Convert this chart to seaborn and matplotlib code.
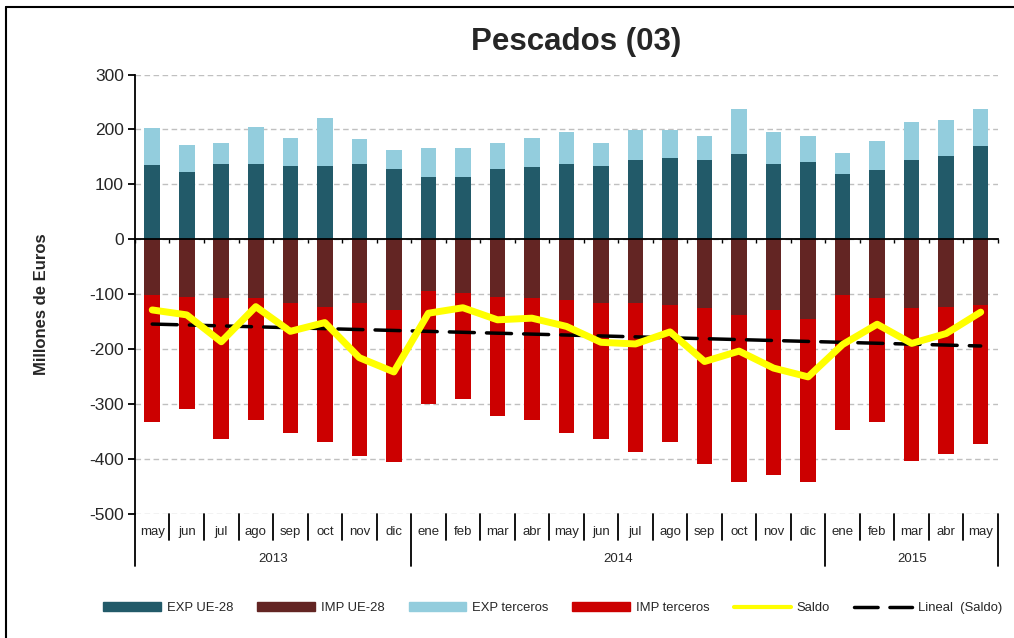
"""Pescados (03): comercio exterior mensual, may 2013 - may 2015."""

import matplotlib.pyplot as plt
import numpy as np
import pandas as pd
import seaborn as sns
from matplotlib.lines import Line2D
from matplotlib.patches import Patch

months = ["may", "jun", "jul", "ago", "sep", "oct", "nov", "dic",
          "ene", "feb", "mar", "abr", "may", "jun", "jul", "ago", "sep", "oct", "nov", "dic",
          "ene", "feb", "mar", "abr", "may"]
years = ["2013", "2014", "2015"]
months_per_year = [8, 12, 5]

exp_ue = [135, 122, 137, 137, 134, 134, 137, 128, 113, 113, 128, 132, 137,
          134, 145, 147, 145, 156, 137, 141, 119, 126, 145, 151, 170]
exp_terceros = [68, 50, 39, 67, 51, 86, 45, 35, 53, 53, 48, 53, 58,
                42, 53, 51, 43, 82, 58, 47, 38, 53, 68, 66, 68]
imp_ue = [-102, -105, -108, -108, -117, -124, -117, -130, -95, -99, -105, -108, -111,
          -117, -117, -120, -126, -139, -130, -145, -102, -108, -126, -123, -120]
imp_terceros = [-231, -205, -256, -222, -237, -246, -278, -277, -206, -193, -218, -222, -243,
                -247, -271, -250, -284, -303, -299, -297, -246, -225, -278, -269, -253]
saldo = [-129, -138, -187, -123, -168, -152, -216, -242, -135, -125, -147, -144, -159,
         -188, -191, -169, -223, -204, -235, -251, -192, -155, -190, -172, -133]

C_EXP_UE = "#225a69"
C_IMP_UE = "#632523"
C_EXP_T = "#93cddd"
C_IMP_T = "#cc0000"
C_SALDO = "#ffff00"

df = pd.DataFrame({
    "idx": np.arange(len(months)),
    "exp_ue": exp_ue,
    "exp_total": np.add(exp_ue, exp_terceros),
    "imp_ue": imp_ue,
    "imp_total": np.add(imp_ue, imp_terceros),
    "saldo": saldo,
})

sns.set_theme(style="white")
plt.rcParams["font.family"] = ["Liberation Sans", "DejaVu Sans"]
plt.rcParams["axes.unicode_minus"] = False

fig = plt.figure(figsize=(10.14, 6.38), dpi=100)
ax = fig.add_axes([0.1331, 0.1951, 0.8511, 0.6881])

# stacked bars: outer totals first, inner EU share on top
bar_kw = dict(width=0.45, linewidth=0, errorbar=None, ax=ax, zorder=2)
sns.barplot(data=df, x="idx", y="exp_total", color=C_EXP_T, saturation=1, **bar_kw)
sns.barplot(data=df, x="idx", y="exp_ue", color=C_EXP_UE, saturation=1, **bar_kw)
sns.barplot(data=df, x="idx", y="imp_total", color=C_IMP_T, saturation=1, **bar_kw)
sns.barplot(data=df, x="idx", y="imp_ue", color=C_IMP_UE, saturation=1, **bar_kw)

sns.lineplot(data=df, x="idx", y="saldo", color=C_SALDO, lw=5, ax=ax, zorder=4,
             solid_joinstyle="round", solid_capstyle="round")
coef = np.polyfit(df["idx"], df["saldo"], 1)
trend = np.polyval(coef, df["idx"])
ax.plot(df["idx"], trend, color="black", lw=2.5, dashes=(7.2, 3.5),
        dash_capstyle="round", zorder=3)

ax.set_xlim(-0.5, len(months) - 0.5)
ax.set_ylim(-500, 300)
ax.set_yticks(np.arange(-500, 301, 100))
ax.yaxis.grid(True, color="#c0c0c0", linestyle=(0, (4, 2.5)), linewidth=1)
ax.set_axisbelow(True)
ax.set_xlabel("")
ax.set_ylabel("")

for side in ("top", "right"):
    ax.spines[side].set_visible(False)
ax.spines["left"].set_color("black")
ax.spines["left"].set_linewidth(1.3)
ax.spines["bottom"].set_position(("data", 0))
ax.spines["bottom"].set_color("black")
ax.spines["bottom"].set_linewidth(1.3)
ax.spines["bottom"].set_zorder(5)

ax.set_xticks(np.arange(-0.5, len(months), 1.0))
ax.set_xticklabels([])
ax.tick_params(axis="x", direction="out", length=3, width=1, color="black", bottom=True)
ax.tick_params(axis="y", direction="out", length=5, width=1.3, color="black", left=True,
               labelsize=12.5, pad=3)

# two-level category labels under the plot
xt = ax.get_xaxis_transform()
bounds = np.arange(-0.5, len(months), 1.0)
year_edges = np.concatenate([[0], np.cumsum(months_per_year)]) - 0.5
for b in bounds:
    low = -0.1196 if b in year_edges else -0.0604
    ax.plot([b, b], [0, low], transform=xt, color="black", lw=1.3, clip_on=False)
for i, m in enumerate(months):
    ax.text(i, -0.042, m, transform=xt, ha="center", va="center", fontsize=9.5)
for y, a, b in zip(years, year_edges[:-1], year_edges[1:]):
    ax.text((a + b) / 2, -0.1036, y, transform=xt, ha="center", va="center", fontsize=9.5)

fig.text(0.568, 0.934, "Pescados (03)", ha="center", va="center",
         fontsize=22.5, fontweight="bold")
fig.text(0.0414, 0.5235, "Millones de Euros", ha="center", va="center",
         rotation=90, fontsize=12, fontweight="bold")

handles = [
    Patch(color=C_EXP_UE, label="EXP UE-28"),
    Patch(color=C_IMP_UE, label="IMP UE-28"),
    Patch(color=C_EXP_T, label="EXP terceros"),
    Patch(color=C_IMP_T, label="IMP terceros"),
    Line2D([], [], color=C_SALDO, lw=3, label="Saldo"),
    Line2D([], [], color="black", lw=2.5, dashes=(6.8, 3.4), dash_capstyle="round",
           label="Lineal  (Saldo)"),
]
fig.legend(handles=handles, ncol=6, loc="center", bbox_to_anchor=(0.545, 0.047),
           frameon=False, fontsize=9.4, handlelength=4.4, handleheight=0.7,
           columnspacing=1.85, handletextpad=0.45)

# chart frame (cut off at right and bottom like the source image)
fig.add_artist(Line2D([0.0064, 0.0064], [0, 0.9898], color="black", lw=1.5,
                      transform=fig.transFigure))
fig.add_artist(Line2D([0.0064, 1], [0.9898, 0.9898], color="black", lw=1.5,
                      transform=fig.transFigure))

fig.savefig("out.png", dpi=100)
